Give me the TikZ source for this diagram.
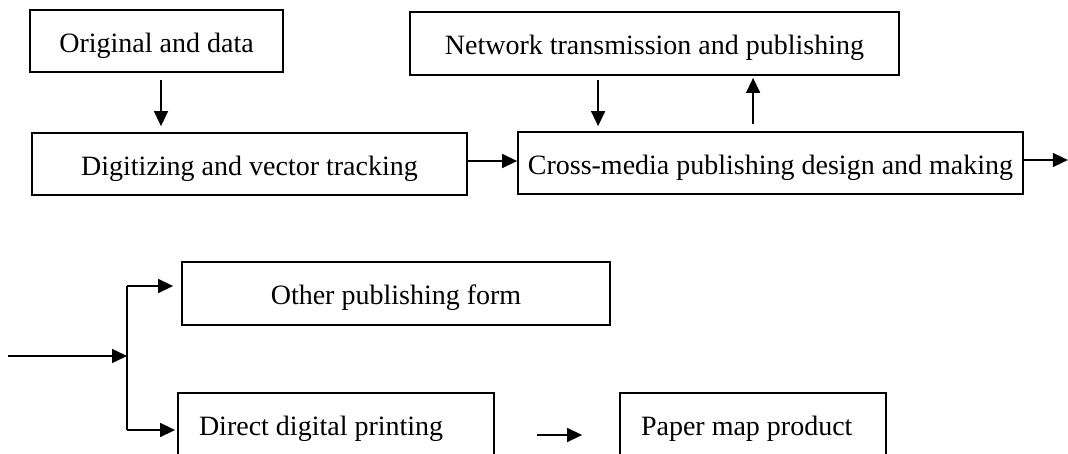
\documentclass[tikz,border=0pt]{standalone}
\usepackage{fontspec}
\setmainfont{Liberation Serif}
\usetikzlibrary{arrows.meta}
\begin{document}
\begin{tikzpicture}[x=1pt,y=-1pt,
  box/.style={draw, line width=1.8pt, inner sep=0pt, text height=22pt, text depth=0pt, font=\fontsize{28}{33}\selectfont},
  leftbox/.style={box, inner xsep=21pt, align=flush left, minimum height=62pt},
  conn/.style={line width=1.5pt, -{Triangle[length=15pt,width=14pt]}},
  plain/.style={line width=1.5pt}]
\useasboundingbox (0,0) rectangle (1068,453);
\clip (0,0) rectangle (1068,453);
\node[box, minimum width=253pt, minimum height=62pt] (orig) at (156.5,41) {Original and data};
\node[box, minimum width=435pt, minimum height=62pt] (digit) at (249.5,164) {Digitizing and vector tracking};
\node[box, minimum width=489pt, minimum height=63pt] (net) at (654.5,43.5) {Network transmission and publishing};
\node[box, minimum width=505pt, minimum height=62pt] (cross) at (770.5,163) {Cross-media publishing design and making};
\node[box, minimum width=428pt, minimum height=63pt] (other) at (396,293.5) {Other publishing form};
\node[leftbox, text width=274pt] (direct) at (336,424) {Direct digital printing};
\node[leftbox, text width=224pt] (paper) at (753,424) {Paper map product};
% top connectors
\draw[conn] ([xshift=4.5pt,yshift=-7pt]orig.south) coordinate (a1) -- ([yshift=6pt]a1 |- digit.north);
\draw[conn] ([yshift=3pt]digit.east) -- ([yshift=3pt]digit.east -| cross.west);
\draw[conn] ([xshift=189pt,yshift=-4pt]net.south west) coordinate (a3) -- ([yshift=5pt]a3 |- cross.north);
\draw[conn] ([xshift=236pt,yshift=7pt]cross.north west) coordinate (a4) -- ([yshift=-2pt]a4 |- net.south);
\draw[conn] ([yshift=3pt]cross.east) -- ++(44,0);
% bottom connectors
\coordinate (in) at (8,356);
\coordinate (split) at (127,356);
\coordinate (ut) at (127,286);
\coordinate (lt) at (127,430);
\draw[conn] (in) -- (split);
\draw[plain] (ut) -- (lt);
\draw[conn] (ut) -- ([xshift=-8pt]ut -| other.west);
\draw[conn] (lt) -- ([xshift=-2pt]lt -| direct.west);
\draw[conn] ([xshift=42pt,yshift=-11pt]direct.east) -- ([xshift=-37pt,yshift=-11pt]paper.west);
\end{tikzpicture}
\end{document}
